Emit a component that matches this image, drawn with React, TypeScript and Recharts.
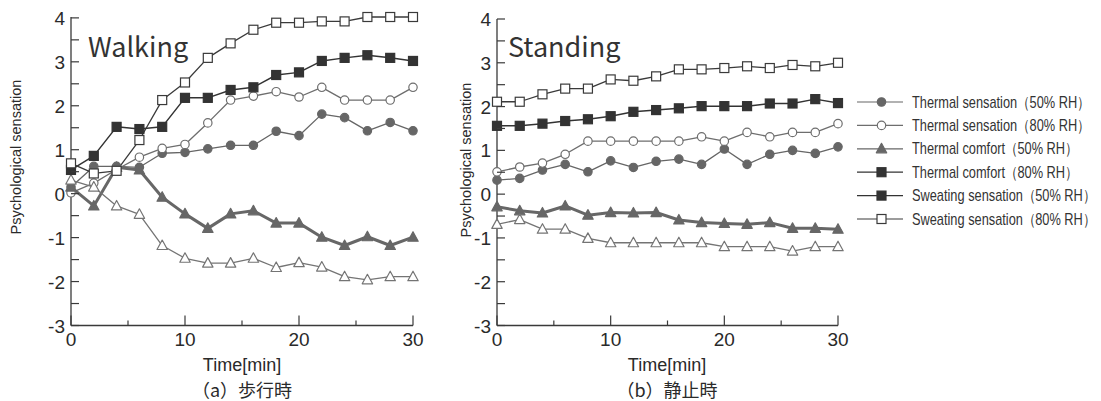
import { Legend, Line, LineChart, XAxis, YAxis } from "recharts";

const TIME = [0, 2, 4, 6, 8, 10, 12, 14, 16, 18, 20, 22, 24, 26, 28, 30];

// Walking (a)
const WALK_TS50 = [0.15, 0.62, 0.62, 0.6, 0.92, 0.94, 1.02, 1.1, 1.1, 1.42, 1.32, 1.81, 1.73, 1.43, 1.62, 1.43];
const WALK_TS80 = [0.02, 0.24, 0.55, 0.83, 1.03, 1.12, 1.61, 2.13, 2.22, 2.32, 2.2, 2.42, 2.13, 2.13, 2.13, 2.42];
const WALK_TC50 = [0.15, -0.28, 0.6, 0.54, -0.08, -0.46, -0.79, -0.46, -0.39, -0.67, -0.67, -0.99, -1.18, -0.98, -1.18, -0.99];
const WALK_TC80 = [0.31, 0.15, -0.28, -0.47, -1.18, -1.47, -1.58, -1.58, -1.47, -1.68, -1.57, -1.67, -1.89, -1.96, -1.89, -1.89];
const WALK_SS50 = [0.54, 0.86, 1.52, 1.47, 1.52, 2.18, 2.18, 2.36, 2.42, 2.7, 2.76, 3.02, 3.09, 3.15, 3.09, 3.02];
const WALK_SS80 = [0.69, 0.46, 0.52, 1.22, 2.13, 2.53, 3.09, 3.42, 3.73, 3.89, 3.89, 3.92, 3.92, 4.02, 4.02, 4.02];

// Standing (b)
const STAND_TS50 = [0.32, 0.36, 0.55, 0.68, 0.51, 0.76, 0.61, 0.75, 0.8, 0.68, 1.03, 0.68, 0.91, 1.0, 0.93, 1.08];
const STAND_TS80 = [0.51, 0.62, 0.71, 0.91, 1.21, 1.21, 1.21, 1.21, 1.21, 1.31, 1.21, 1.41, 1.31, 1.41, 1.41, 1.61];
const STAND_TC50 = [-0.29, -0.38, -0.43, -0.27, -0.48, -0.42, -0.43, -0.42, -0.59, -0.65, -0.67, -0.69, -0.65, -0.78, -0.78, -0.8];
const STAND_TC80 = [-0.69, -0.58, -0.8, -0.8, -1.01, -1.11, -1.11, -1.11, -1.11, -1.11, -1.2, -1.2, -1.2, -1.3, -1.2, -1.2];
const STAND_SS50 = [1.56, 1.56, 1.61, 1.67, 1.71, 1.78, 1.88, 1.92, 1.96, 2.01, 2.01, 2.01, 2.07, 2.07, 2.17, 2.08];
const STAND_SS80 = [2.11, 2.11, 2.28, 2.41, 2.41, 2.62, 2.59, 2.69, 2.85, 2.85, 2.88, 2.92, 2.88, 2.95, 2.92, 3.0];

const Y_TICKS = [-3, -2.5, -2, -1.5, -1, -0.5, 0, 0.5, 1, 1.5, 2, 2.5, 3, 3.5, 4];
const X_TICKS = [0, 5, 10, 15, 20, 25, 30];

type Shape = "circle" | "triangle" | "square";

const SERIES: {
  key: string;
  name: string;
  shape: Shape;
  filled: boolean;
  color: string;
  width: number;
  legendShape?: Shape;
  legendFilled?: boolean;
  legendColor?: string;
}[] = [
  { key: "ts50", name: "Thermal sensation（50% RH）", shape: "circle", filled: true, color: "#666", width: 1.3 },
  { key: "ts80", name: "Thermal sensation（80% RH）", shape: "circle", filled: false, color: "#6e6e6e", width: 1.3 },
  { key: "tc50", name: "Thermal comfort（50% RH）", shape: "triangle", filled: true, color: "#676767", width: 3 },
  // the original legend shows a dark filled square for this entry
  { key: "tc80", name: "Thermal comfort（80% RH）", shape: "triangle", filled: false, color: "#747474", width: 1.3, legendShape: "square", legendFilled: true, legendColor: "#333" },
  { key: "ss50", name: "Sweating sensation（50% RH）", shape: "square", filled: true, color: "#333", width: 1.5 },
  { key: "ss80", name: "Sweating sensation（80% RH）", shape: "square", filled: false, color: "#3a3a3a", width: 1.3 },
];

function buildRows(values: Record<string, number[]>) {
  return TIME.map((t, i) => {
    const row: Record<string, number> = { t };
    for (const k of Object.keys(values)) row[k] = values[k][i];
    return row;
  });
}

const walkData = buildRows({
  ts50: WALK_TS50, ts80: WALK_TS80, tc50: WALK_TC50,
  tc80: WALK_TC80, ss50: WALK_SS50, ss80: WALK_SS80,
});
const standData = buildRows({
  ts50: STAND_TS50, ts80: STAND_TS80, tc50: STAND_TC50,
  tc80: STAND_TC80, ss50: STAND_SS50, ss80: STAND_SS80,
});

const SANS = "'Liberation Sans', Arial, Helvetica, sans-serif";
const JP = "'Noto Sans CJK JP', 'Noto Sans', sans-serif";
const AXIS = "#3a3a3a";

function Marker({ cx, cy, shape, filled, color }: { cx: number; cy: number; shape: Shape; filled: boolean; color: string }) {
  const fill = filled ? color : "#fff";
  if (shape === "circle")
    return <circle cx={cx} cy={cy} r={4.2} fill={fill} stroke={color} strokeWidth={1.2} />;
  if (shape === "triangle")
    return (
      <polygon
        points={`${cx},${cy - 5.5} ${cx - 5.2},${cy + 4} ${cx + 5.2},${cy + 4}`}
        fill={fill}
        stroke={color}
        strokeWidth={1.2}
        strokeLinejoin="round"
      />
    );
  return <rect x={cx - 4.5} y={cy - 4.5} width={9} height={9} fill={fill} stroke={color} strokeWidth={1.2} />;
}

function YTick(props: any) {
  const { x, y, payload } = props;
  const v = payload.value;
  return (
    <g>
      <line x1={x} x2={x + 8} y1={y} y2={y} stroke={AXIS} strokeWidth={1.2} />
      {Number.isInteger(v) && (
        <text x={x - 6} y={y} dy={7} textAnchor="end" fontSize={19} fontFamily={SANS} fill="#2a2a2a">
          {v}
        </text>
      )}
    </g>
  );
}

function XTick(props: any) {
  const { x, y, payload } = props;
  const v = payload.value;
  const major = v % 10 === 0;
  return (
    <g>
      <line x1={x} x2={x} y1={y} y2={y - (major ? 10 : 5)} stroke={AXIS} strokeWidth={1.2} />
      {major && (
        <text x={x} y={y + 20} textAnchor="middle" fontSize={19} fontFamily={SANS} fill="#2a2a2a">
          {v}
        </text>
      )}
    </g>
  );
}

function LegendBox() {
  return (
    <svg width={250} height={140} style={{ display: "block" }}>
      {SERIES.map((s, i) => {
        const y = 12 + i * 23.4;
        const c = s.legendColor ?? s.color;
        return (
          <g key={s.key}>
            <line x1={1} x2={47} y1={y} y2={y} stroke={c} strokeWidth={1.2} />
            <Marker
              cx={25.5}
              cy={y}
              shape={s.legendShape ?? s.shape}
              filled={s.legendFilled ?? s.filled}
              color={c}
            />
            <text
              transform={`translate(56,${y + 5.5}) scale(0.8,1)`}
              fontSize={16}
              fontFamily={SANS}
              fill="#333"
            >
              {s.name}
            </text>
          </g>
        );
      })}
    </svg>
  );
}

function Panel({
  data,
  width,
  top,
  right,
  yAxisWidth,
  withLegend,
}: {
  data: Record<string, number>[];
  width: number;
  top: number;
  right: number;
  yAxisWidth: number;
  withLegend?: boolean;
}) {
  return (
    <LineChart width={width} height={401} data={data} margin={{ top, right, bottom: 45, left: 0 }}>
      <XAxis
        dataKey="t"
        type="number"
        domain={[0, 30]}
        ticks={X_TICKS}
        interval={0}
        height={30.5}
        tickSize={0}
        tickMargin={0}
        tick={<XTick />}
        axisLine={{ stroke: AXIS, strokeWidth: 1.3 }}
        tickLine={false}
      />
      <YAxis
        type="number"
        domain={[-3, 4]}
        ticks={Y_TICKS}
        interval={0}
        width={yAxisWidth}
        tickSize={0}
        tickMargin={0}
        tick={<YTick />}
        axisLine={{ stroke: AXIS, strokeWidth: 1.3 }}
        tickLine={false}
      />
      {withLegend && (
        <Legend
          layout="vertical"
          align="center"
          verticalAlign="middle"
          content={() => <LegendBox />}
          wrapperStyle={{ left: 436, top: 90, width: 250, height: 140 }}
        />
      )}
      {SERIES.map((s) => (
        <Line
          key={s.key}
          type="linear"
          dataKey={s.key}
          name={s.name}
          stroke={s.color}
          strokeWidth={s.width}
          strokeLinejoin="round"
          isAnimationActive={false}
          dot={(p: any) => (
            <Marker key={`${s.key}-${p.index}`} cx={p.cx} cy={p.cy} shape={s.shape} filled={s.filled} color={s.color} />
          )}
          activeDot={false}
        />
      ))}
    </LineChart>
  );
}

export default function App() {
  const label = { fontFamily: SANS, fill: "#2a2a2a" };
  return (
    <div style={{ position: "absolute", left: 0, top: 0, width: 1101, height: 401, background: "#fff" }}>
      <div style={{ position: "absolute", left: 0, top: 0 }}>
        <Panel data={walkData} width={440} top={17} right={27} yAxisWidth={71} />
      </div>
      <div style={{ position: "absolute", left: 420, top: 0 }}>
        <Panel data={standData} width={681} top={19} right={263} yAxisWidth={77} withLegend />
      </div>
      <svg
        width={1101}
        height={401}
        style={{ position: "absolute", left: 0, top: 0, pointerEvents: "none" }}
      >
        <text x={88} y={57} fontSize={27} fontFamily={JP} fill="#333">Walking</text>
        <text x={508} y={57} fontSize={27} fontFamily={JP} fill="#333">Standing</text>
        <text
          transform="translate(21,157) rotate(-90)"
          textAnchor="middle"
          fontSize={14.5}
          {...label}
        >
          Psychological sensation
        </text>
        <text
          transform="translate(471,160) rotate(-90)"
          textAnchor="middle"
          fontSize={14.5}
          {...label}
        >
          Psychological sensation
        </text>
        <text x={242} y={371} textAnchor="middle" fontSize={18} {...label}>Time[min]</text>
        <text x={667} y={371} textAnchor="middle" fontSize={18} {...label}>Time[min]</text>
        <text x={242} y={397} textAnchor="middle" fontSize={18} fontFamily={JP} fill="#2a2a2a">（a）歩行時</text>
        <text x={667} y={397} textAnchor="middle" fontSize={18} fontFamily={JP} fill="#2a2a2a">（b）静止時</text>
      </svg>
    </div>
  );
}
